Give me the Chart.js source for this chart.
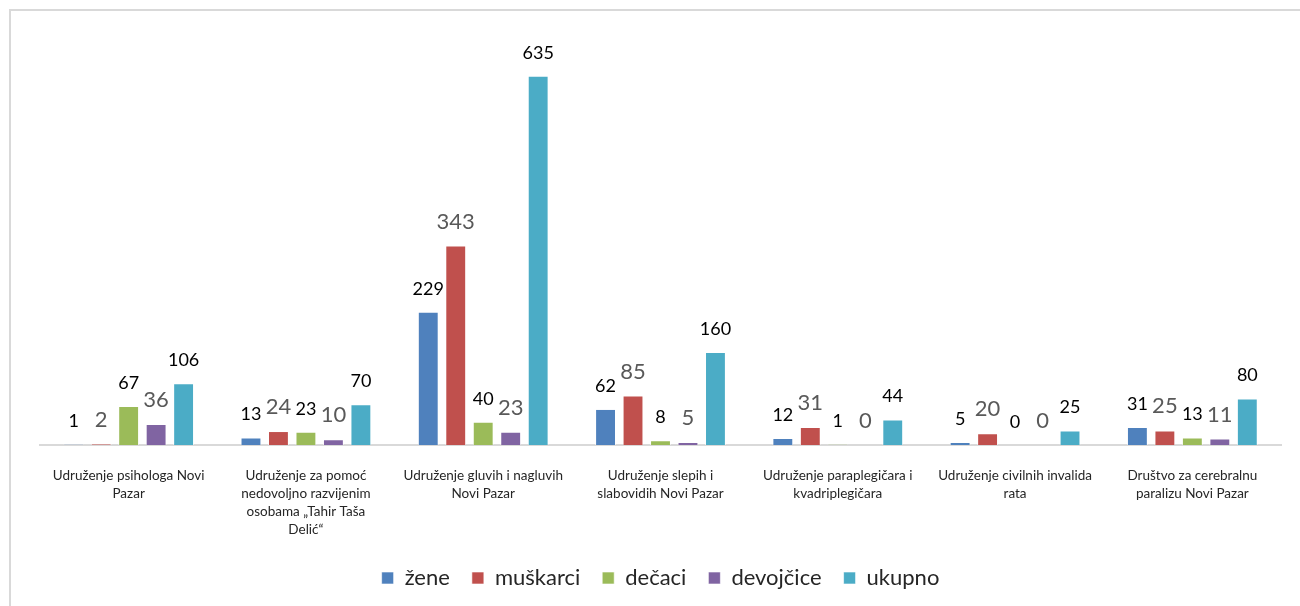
<!DOCTYPE html>
<html>
<head>
<meta charset="utf-8">
<script src="https://cdn.jsdelivr.net/npm/chart.js@4.4.1/dist/chart.umd.min.js"></script>
<style>
  html, body { margin: 0; padding: 0; background: #fff; }
  #wrap { position: relative; width: 1300px; height: 606px; }
  #frame { position: absolute; left: 9px; top: 9px; right: -5px; bottom: -5px; border-left: 2px solid #d9d9d9; border-top: 2px solid #d9d9d9; }
  canvas { position: absolute; left: 0; top: 0; }
</style>
</head>
<body>
<div id="wrap">
  <div id="frame"></div>
  <canvas id="chart" width="1300" height="606"></canvas>
</div>
<script>
// categories (line-broken like the original)
const categories = [
  ['Udruženje psihologa Novi', 'Pazar'],
  ['Udruženje za pomoć', 'nedovoljno razvijenim', 'osobama „Tahir Taša', 'Delić“'],
  ['Udruženje gluvih i nagluvih', 'Novi Pazar'],
  ['Udruženje slepih i', 'slabovidih Novi Pazar'],
  ['Udruženje paraplegičara i', 'kvadriplegičara'],
  ['Udruženje civilnih invalida', 'rata'],
  ['Društvo za cerebralnu', 'paralizu Novi Pazar']
];

const seriesNames = ['žene', 'muškarci', 'dečaci', 'devojčice', 'ukupno'];
const zene      = [1, 13, 229, 62, 12, 5, 31];
const muskarci  = [2, 24, 343, 85, 31, 20, 25];
const decaci    = [67, 23, 40, 8, 1, 0, 13];
const devojcice = [36, 10, 23, 5, 0, 0, 11];
const ukupno    = [106, 70, 635, 160, 44, 25, 80];

const colors = ['#4F81BD', '#C0504D', '#9BBB59', '#8064A2', '#4BACC6'];
// label style per series (Excel had two label styles)
const labelStyle = [
  { size: 18, color: '#000000' },
  { size: 22, color: '#595959' },
  { size: 18, color: '#000000' },
  { size: 22, color: '#595959' },
  { size: 18, color: '#000000' }
];

const FONT = 'Lato, "Open Sans", sans-serif';

// draw value labels above bars
const valueLabels = {
  id: 'valueLabels',
  afterDatasetsDraw(chart) {
    const ctx = chart.ctx;
    ctx.save();
    ctx.textAlign = 'center';
    ctx.textBaseline = 'alphabetic';
    chart.data.datasets.forEach((ds, i) => {
      const meta = chart.getDatasetMeta(i);
      const st = labelStyle[i];
      ctx.font = st.size + 'px ' + FONT;
      ctx.fillStyle = st.color;
      meta.data.forEach((bar, j) => {
        ctx.fillText(String(ds.data[j]), bar.x, bar.y - 17);
      });
    });
    ctx.restore();
  }
};

const data = [zene, muskarci, decaci, devojcice, ukupno];

new Chart(document.getElementById('chart'), {
  type: 'bar',
  data: {
    labels: categories,
    datasets: seriesNames.map((name, i) => ({
      label: name,
      data: data[i],
      backgroundColor: colors[i],
      borderColor: 'rgba(255,255,255,0.6)',
      borderWidth: 1,
      categoryPercentage: 0.775,
      barPercentage: 0.76
    }))
  },
  options: {
    responsive: false,
    animation: false,
    layout: { padding: { left: 40, right: 19, top: 38, bottom: 7 } },
    plugins: {
      legend: {
        position: 'bottom',
        labels: {
          font: { size: 22, family: FONT },
          color: '#262626',
          boxWidth: 12,
          boxHeight: 12,
          padding: 22
        }
      },
      tooltip: { enabled: false }
    },
    scales: {
      x: {
        grid: { display: false },
        border: { display: true, color: '#d9d9d9', width: 2 },
        ticks: {
          font: { size: 13.5, family: FONT, lineHeight: 1.33 },
          color: '#262626',
          maxRotation: 0,
          autoSkip: false,
          padding: 14
        },
        afterFit(scale) { scale.height = 100; }
      },
      y: {
        display: false,
        min: 0,
        max: 700
      }
    }
  },
  plugins: [valueLabels]
});
</script>
</body>
</html>
